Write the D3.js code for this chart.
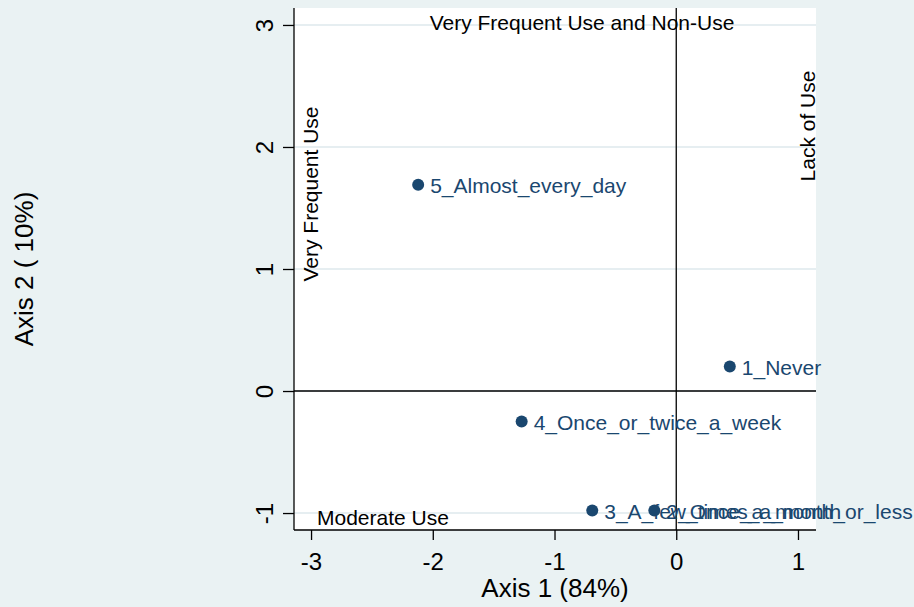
<!DOCTYPE html>
<html>
<head>
<meta charset="utf-8">
<script src="https://cdn.jsdelivr.net/npm/d3@7"></script>
<style>
  body { margin: 0; background: #eaf2f3; }
  svg { display: block; font-family: Arial, "Liberation Sans", sans-serif; }
</style>
</head>
<body>
<div id="chart"></div>
<script>
// category points (axis 1 / axis 2 coordinates)
var categories = ["5_Almost_every_day", "1_Never", "4_Once_or_twice_a_week", "3_A_few_times_a_month", "2_Once_a_month_or_less"];
var dim1 = [-2.12, 0.44, -1.27, -0.69, -0.18];
var dim2 = [1.69, 0.20, -0.25, -0.98, -0.98];

var xTicks = [-3, -2, -1, 0, 1];
var yTicks = [-1, 0, 1, 2, 3];

const W = 914, H = 607;
const navy = "#1a476f";
const gridColor = "#e6eef1";

// plain hyphen for negatives, like the original
const fmt = d => String(d);

const x = d3.scaleLinear().domain([-3.14, 1.148]).range([294, 816]);
const y = d3.scaleLinear().domain([-1.139, 3.139]).range([530, 8]);

const svg = d3.select("#chart").append("svg").attr("width", W).attr("height", H);

svg.append("rect").attr("width", W).attr("height", H).attr("fill", "#eaf2f3");

// plot region
svg.append("rect")
  .attr("x", x.range()[0]).attr("y", y.range()[1])
  .attr("width", x.range()[1] - x.range()[0])
  .attr("height", y.range()[0] - y.range()[1])
  .attr("fill", "white");

// horizontal grid
svg.append("g").selectAll("line").data(yTicks).join("line")
  .attr("x1", x.range()[0]).attr("x2", x.range()[1])
  .attr("y1", d => y(d)).attr("y2", d => y(d))
  .attr("stroke", gridColor).attr("stroke-width", 2);

// zero reference lines
svg.append("line")
  .attr("x1", x.range()[0]).attr("x2", x.range()[1])
  .attr("y1", y(0)).attr("y2", y(0))
  .attr("stroke", "black").attr("stroke-width", 1.3);
svg.append("line")
  .attr("x1", x(0)).attr("x2", x(0))
  .attr("y1", y.range()[1]).attr("y2", y.range()[0])
  .attr("stroke", "black").attr("stroke-width", 1.3);

// axes
const xAxis = d3.axisBottom(x).tickValues(xTicks).tickSize(10).tickPadding(6).tickFormat(fmt);
const gx = svg.append("g").attr("transform", `translate(0,${y.range()[0]})`).call(xAxis);
gx.select(".domain").attr("d", `M${x.range()[0]},0H${x.range()[1]}`).attr("stroke-width", 1.3);
gx.selectAll(".tick line").attr("stroke-width", 1.3);
gx.selectAll(".tick text").attr("font-size", 24).attr("fill", "black")
  .attr("font-family", "Arial, 'Liberation Sans', sans-serif")
  .attr("y", 40).attr("dy", 0);

const yAxis = d3.axisLeft(y).tickValues(yTicks).tickSize(11).tickFormat(fmt);
const gy = svg.append("g").attr("transform", `translate(${x.range()[0]},0)`).call(yAxis);
gy.select(".domain").attr("d", `M0,${y.range()[1]}V${y.range()[0]}`).attr("stroke-width", 1.3);
gy.selectAll(".tick line").attr("stroke-width", 1.3);
gy.selectAll(".tick text")
  .attr("font-size", 24).attr("fill", "black")
  .attr("font-family", "Arial, 'Liberation Sans', sans-serif")
  .attr("x", null).attr("dy", null)
  .attr("text-anchor", "middle")
  .attr("transform", "translate(-21,0) rotate(-90)");

// axis titles
svg.append("text").attr("x", 555).attr("y", 597)
  .attr("text-anchor", "middle").attr("font-size", 26).text("Axis 1 (84%)");
svg.append("text").attr("transform", "translate(33,269) rotate(-90)")
  .attr("text-anchor", "middle").attr("font-size", 26).text("Axis 2 ( 10%)");

// quadrant annotations
svg.append("text").attr("x", 582).attr("y", 30)
  .attr("text-anchor", "middle").attr("font-size", 21).text("Very Frequent Use and Non-Use");
svg.append("text").attr("transform", "translate(318,194) rotate(-90)")
  .attr("text-anchor", "middle").attr("font-size", 21).text("Very Frequent Use");
svg.append("text").attr("transform", "translate(815,126) rotate(-90)")
  .attr("text-anchor", "middle").attr("font-size", 21).text("Lack of Use");
svg.append("text").attr("x", 317).attr("y", 525)
  .attr("font-size", 21).text("Moderate Use");

// points and labels
const pts = categories.map((c, i) => ({ name: c, a: dim1[i], b: dim2[i] }));
svg.append("g").selectAll("circle").data(pts).join("circle")
  .attr("cx", d => x(d.a)).attr("cy", d => y(d.b)).attr("r", 6)
  .attr("fill", navy);
svg.append("g").selectAll("text").data(pts).join("text")
  .attr("x", d => x(d.a) + 12).attr("y", d => y(d.b) + 8)
  .attr("font-size", 21).attr("fill", navy)
  .text(d => d.name);
</script>
</body>
</html>
